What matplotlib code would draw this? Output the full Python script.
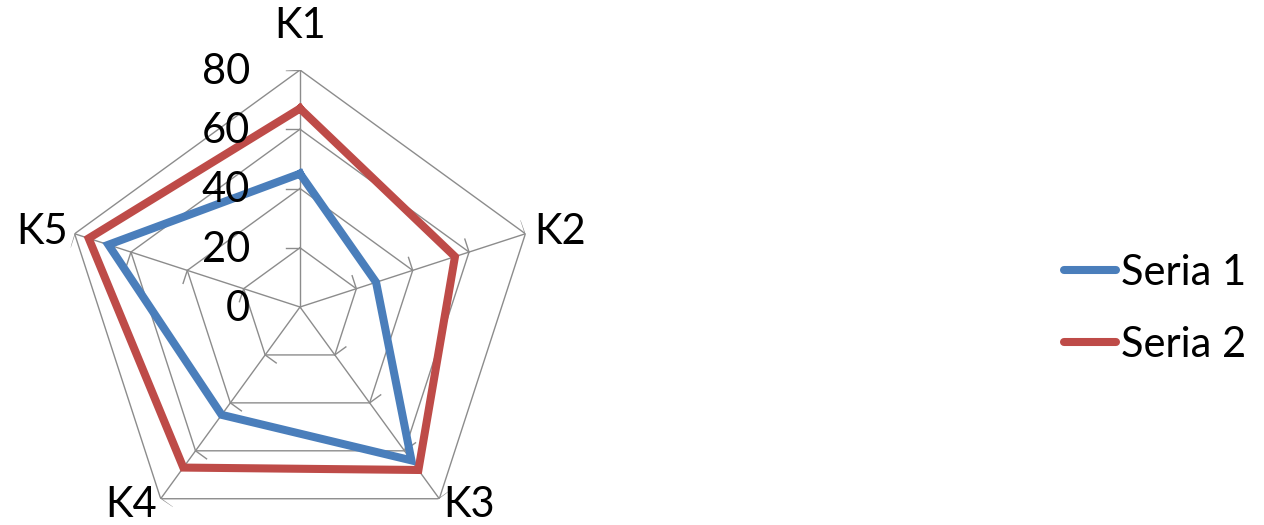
import numpy as np
import matplotlib.pyplot as plt
from matplotlib.lines import Line2D

plt.rcParams['font.family'] = ['Lato', 'DejaVu Sans']

categories = ['K1', 'K2', 'K3', 'K4', 'K5']
seria_1 = [45, 27, 64, 45, 68]
seria_2 = [67, 55, 68, 67, 75]
r_ticks = [0, 20, 40, 60, 80]
r_max = 80

blue = '#4A7EBB'
red = '#BE4B48'
grid_col = '#8C8C8C'

fig = plt.figure(figsize=(12.64, 5.25), dpi=100)
# centre of radar at (300, 307) px, radius 237 px
cx, cy, rad = 300, 307, 237
ax = fig.add_axes([(cx - rad) / 1264, (525 - cy - rad) / 525, 2 * rad / 1264, 2 * rad / 525],
                  projection='polar')
ax.set_theta_offset(np.pi / 2)
ax.set_theta_direction(-1)
ax.set_ylim(0, r_max)
ax.grid(False)
ax.spines['polar'].set_visible(False)
ax.set_xticks([])
ax.set_yticks([])
ax.patch.set_alpha(0)

n = len(categories)
theta = np.arange(n) * 2 * np.pi / n
theta_c = np.append(theta, theta[0])

# polygon gridlines
for r in r_ticks[1:]:
    ax.plot(theta_c, [r] * (n + 1), color=grid_col, lw=1.0, zorder=1)
# spokes
for t in theta:
    ax.plot([t, t], [0, r_max], color=grid_col, lw=1.0, zorder=1)
# small tick marks on each spoke (counter-clockwise side)
d = 4.6
for t in theta:
    for r in r_ticks[1:]:
        r2 = np.hypot(r, d)
        t2 = t - np.arctan2(d, r)
        ax.plot([t, t2], [r, r2], color=grid_col, lw=1.0, zorder=1)

# series
ax.plot(theta_c, seria_1 + seria_1[:1], color=blue, lw=5.8, solid_joinstyle='miter', zorder=3)
ax.plot(theta_c, seria_2 + seria_2[:1], color=red, lw=5.8, solid_joinstyle='miter', zorder=3)

# value labels left of K1 spoke
for r in r_ticks:
    ax.annotate(str(r), xy=(0, r), xytext=(-50, -2), textcoords='offset pixels',
                ha='right', va='center', fontsize=30, annotation_clip=False)

# category labels
offsets = [(0, 44), (35, 2), (30, -6), (-30, -6), (-33, 2)]
for t, lab, (ox, oy) in zip(theta, categories, offsets):
    ax.annotate(lab, xy=(t, r_max), xytext=(ox, oy), textcoords='offset pixels',
                ha='center', va='center', fontsize=30, annotation_clip=False)

handles = [Line2D([], [], color=blue, lw=5.8, solid_capstyle='round'),
           Line2D([], [], color=red, lw=5.8, solid_capstyle='round')]
fig.legend(handles, ['Seria 1', 'Seria 2'], loc='center left',
           bbox_to_anchor=(1047 / 1264, 1 - 309 / 525), frameon=False,
           fontsize=30, handlelength=1.25, handletextpad=0.12, labelspacing=0.82,
           borderaxespad=0)

fig.savefig('out.png', dpi=100)
